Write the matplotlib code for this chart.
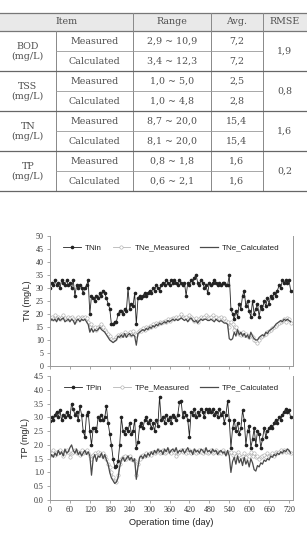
import matplotlib

matplotlib.use("Agg")
import matplotlib.pyplot as plt
import numpy as np

# ---- table data ----
ITEMS = ["BOD", "TSS", "TN", "TP"]
UNIT = "(mg/L)"
KINDS = ["Measured", "Calculated"]
RANGES = [
    ["2,9 ~ 10,9", "3,4 ~ 12,3"],
    ["1,0 ~ 5,0", "1,0 ~ 4,8"],
    ["8,7 ~ 20,0", "8,1 ~ 20,0"],
    ["0,8 ~ 1,8", "0,6 ~ 2,1"],
]
AVGS = [["7,2", "7,2"], ["2,5", "2,8"], ["15,4", "15,4"], ["1,6", "1,6"]]
RMSE = ["1,9", "0,8", "1,6", "0,2"]
HEADERS = ["Item", "Range", "Avg.", "RMSE"]

# ---- time series (sampled every 5 days) ----
DAYS = list(range(0, 730, 5))

TN_IN = [
    30, 32, 31, 33, 31, 32, 30, 33, 32, 31, 33, 31, 32, 30, 33, 27,
    31, 30, 31, 30, 28, 30, 31, 33,
    20, 27, 26, 25, 27, 26,
    28, 27, 29, 28, 26, 24, 22,
    16, 16, 17, 17,
    20, 21, 21, 20, 22, 21,
    30, 22, 24, 23, 28,
    16, 26, 27, 26, 27, 28, 27, 28,
    29, 28, 30, 29, 31, 30, 29, 31,
    32, 31, 33, 32, 31, 33, 32, 33, 32, 31, 33, 32,
    31, 32, 27, 32, 31, 33, 32, 34,
    35, 32, 31, 33, 32, 30, 31, 28,
    32, 31, 32, 33, 32, 31, 32, 31, 32, 32, 31, 31,
    35, 22, 20, 18, 21, 19, 24, 22,
    27, 29, 23, 25, 21, 19, 25, 20, 22, 24, 19, 23,
    22, 25, 23, 26, 24, 27, 26, 28, 27, 29, 31, 30,
    33, 32, 33, 32, 33, 29,
]
TN_MEAS = [
    18.5, 19, 18, 19.5, 18.5, 19, 18, 19, 19.5, 18.5, 18, 19,
    18.5, 19, 18, 17.5, 18.5, 19, 18, 19, 18.5, 19, 18.5, 17,
    15, 16, 14.5, 15, 14, 15, 15.5, 16, 15, 14, 13, 12.5, 11.5,
    10.5, 10, 10.5, 11,
    12, 11.5, 12.5, 12, 13, 12, 12.5, 13, 12, 13.5, 12.5,
    12, 13, 14, 13.5, 14.5, 14, 15, 14.5,
    15.5, 15, 16, 15.5, 16.5, 16, 17, 16.5, 17, 17.5,
    17, 18, 17.5, 18, 18.5, 18, 19, 18.5, 19, 20,
    19, 18.5, 19, 18, 19.5, 19, 18, 17.5, 18.5, 17, 18, 19, 18.5, 19,
    19.5, 19, 18.5, 19, 19.5, 18.5, 19, 18, 18.5, 19, 18, 18.5, 17.5, 17,
    15, 17, 16, 14, 15, 13, 12.5, 12,
    13, 12, 12.5, 11.5, 11, 12, 11, 10, 9.5, 9, 10, 11,
    11.5, 12, 12.5, 13, 13.5, 14, 14.5, 15, 15.5, 16, 16.5, 17,
    17.5, 18, 17, 18.5, 18, 16.5,
]
TN_CALC = [
    17, 18, 17.5, 18, 17, 18.5, 17.5, 18, 18.5, 17, 17.5, 18,
    17, 18, 17.5, 16, 17.5, 18, 17, 18, 17.5, 18, 17, 16,
    13, 14.5, 13, 14, 13.5, 14, 15, 14, 13.5, 13, 12, 11, 10,
    9.5, 9, 9.5, 10,
    11.5, 11, 12, 11, 12.5, 11, 12, 12.5, 11.5, 12, 11.5,
    8, 12.5, 13, 13.5, 14, 13.5, 14.5, 14,
    15, 14.5, 15.5, 15, 16, 15.5, 16.5, 16, 16.5, 17,
    16.5, 17.5, 17, 17.5, 18, 17.5, 18, 17.5, 18, 18.5,
    18, 17.5, 18, 17, 18, 18.5, 17.5, 17, 17.5, 16.5, 17.5, 18, 17.5, 18,
    18, 17.5, 17.5, 18, 17.5, 17, 18, 17.5, 17, 17.5, 17, 16.5, 16.5, 16,
    10.5, 10, 10.5, 13, 11.5, 14, 12, 13,
    11.5, 12.5, 11, 12, 10.5, 13, 11.5, 10.5, 10, 10, 11, 11.5,
    12, 11.5, 13, 12.5, 13.5, 14, 14.5, 15, 16, 16.5, 17, 17.5,
    17, 18, 17.5, 18, 17.5, 17,
]

TP_IN = [
    2.85, 3.0, 2.9, 3.1, 3.2, 3.0, 3.25, 2.9, 3.1, 3.0, 3.2, 3.1,
    3.0, 3.5, 3.3, 3.1, 3.2, 2.9, 3.4, 3.1, 2.5, 2.3, 3.1, 3.2,
    2.5, 2.0, 2.6, 2.6, 2.5, 3.0, 2.9, 3.1, 2.9, 3.0, 3.4, 2.8, 2.4,
    2.0, 1.5, 1.2, 1.25,
    1.4, 2.0, 3.0, 2.5, 2.4, 2.6, 2.5, 2.8, 2.4, 2.5, 2.9,
    1.9, 2.1, 2.7, 2.8, 2.6, 2.9, 3.0, 2.8,
    2.9, 2.6, 2.8, 2.5, 2.9, 2.7, 3.75, 2.9, 3.0, 2.8,
    3.1, 2.9, 3.0, 2.8, 3.1, 3.0, 2.9, 3.1, 3.55, 3.6,
    3.0, 3.2, 3.1, 2.9, 2.3, 3.2, 3.1, 3.3, 3.0, 3.2, 3.1, 3.3, 3.2, 3.0,
    3.3, 3.2, 3.3, 3.2, 3.3, 3.1, 3.2, 3.0, 3.3, 3.1, 3.2, 2.8, 3.1, 3.6,
    2.9, 1.9, 2.6, 2.9, 2.5, 2.8, 2.4, 2.6,
    3.25, 2.9, 2.0, 2.5, 2.7, 1.9, 2.2, 2.6, 2.0, 2.5, 2.4, 1.9,
    2.2, 2.6, 2.3, 2.5, 2.6, 2.7, 2.6, 2.8, 2.9, 2.8, 3.0, 2.9,
    3.1, 3.2, 3.3, 3.2, 3.25, 3.0,
]
TP_MEAS = [
    1.75, 1.7, 1.8, 1.65, 1.75, 1.7, 1.8, 1.75, 1.6, 1.7, 1.8, 1.75,
    1.55, 1.7, 1.75, 1.8, 1.7, 1.75, 1.65, 1.8, 1.7, 1.75, 1.8, 1.7,
    1.6, 1.5, 1.65, 1.7, 1.6, 1.75, 1.7, 1.65, 1.7, 1.6, 1.5, 1.3, 1.2,
    1.0, 0.85, 0.7, 0.65,
    0.9, 1.3, 1.5, 1.55, 1.6, 1.5, 1.55, 1.6, 1.5, 1.45, 1.4,
    0.9, 1.3, 1.5, 1.6, 1.65, 1.6, 1.7, 1.65,
    1.7, 1.65, 1.75, 1.7, 1.75, 1.8, 1.7, 1.75, 1.8, 1.7,
    1.75, 1.8, 1.75, 1.7, 1.8, 1.75, 1.6, 1.7, 1.75, 1.8,
    1.75, 1.8, 1.7, 1.75, 1.8, 1.7, 1.75, 1.8, 1.7, 1.75, 1.8, 1.75, 1.7, 1.8,
    1.75, 1.7, 1.75, 1.8, 1.7, 1.75, 1.8, 1.7, 1.75, 1.7, 1.8, 1.75, 1.7, 1.75,
    1.7, 1.75, 1.65, 1.7, 1.6, 1.75, 1.65, 1.55,
    1.6, 1.7, 1.55, 1.65, 1.6, 1.75, 1.6, 1.7, 1.55, 1.6, 1.5, 1.55,
    1.6, 1.65, 1.55, 1.7, 1.6, 1.65, 1.7, 1.6, 1.75, 1.7, 1.75, 1.8,
    1.75, 1.8, 1.75, 1.8, 1.75, 1.7,
]
TP_CALC = [
    1.5, 1.65, 1.55, 1.7, 1.6, 1.8, 1.65, 1.75, 1.6, 1.85, 1.7, 1.75,
    1.9, 2.0, 1.8, 1.7, 1.85, 1.65, 1.75, 1.6, 1.7, 1.8, 1.65, 1.75,
    1.6, 0.9, 1.5, 1.65, 1.4, 1.6, 1.55, 1.7, 1.5, 1.65, 1.45, 1.3, 1.0,
    0.8, 0.7, 0.6, 0.65,
    0.8, 1.2, 1.45, 1.55, 1.4, 1.5, 1.6, 1.45, 1.55, 1.4, 1.5,
    0.75, 1.2, 1.55, 1.6, 1.5, 1.65, 1.55, 1.7,
    1.6, 1.75, 1.65, 1.8, 1.7, 1.85, 1.75, 1.8, 1.65, 1.85,
    1.75, 1.9, 1.7, 1.8, 1.85, 1.75, 1.9, 1.7, 1.8, 1.75,
    1.85, 1.7, 1.8, 1.9, 1.75, 1.8, 1.65, 1.85, 1.75, 1.8, 1.7, 1.85, 1.8, 1.7,
    1.9, 1.75, 1.8, 1.7, 1.85, 1.75, 1.8, 1.65, 1.75, 1.8, 1.7, 1.75, 1.6, 1.8,
    1.6, 1.0, 1.4, 1.55, 1.3, 1.6, 1.35, 1.5,
    1.25, 1.55, 1.3, 1.45, 1.2, 1.5, 1.35, 1.1, 1.05, 1.25, 1.2, 1.35,
    1.3, 1.45, 1.4, 1.5, 1.45, 1.6, 1.55, 1.65, 1.6, 1.7, 1.65, 1.75,
    1.7, 1.8, 1.75, 1.85, 1.8, 1.7,
]

W, H = 307, 534
TEXT_COLOR = "#505050"
SERIF = ["DejaVu Serif"]
TICK_FONT = ["Liberation Serif"]
LABEL_FONT = ["Liberation Sans"]

COL_X = [0, 55.7, 133.3, 211, 262.7, 307]
HEAD_TOP, HEAD_BOT = 12.7, 31.0
ROW_H = 20.0


def draw_table(fig):
    ax = fig.add_axes([0, 0, 1, 1])
    ax.set_xlim(0, W)
    ax.set_ylim(H, 0)
    ax.axis("off")

    ax.fill_between([0, W], HEAD_TOP, HEAD_BOT, color="#e9e9e9", lw=0)
    ax.plot([0, W], [HEAD_TOP, HEAD_TOP], color="#777777", lw=0.9)
    ax.plot([0, W], [HEAD_BOT, HEAD_BOT], color="#777777", lw=0.9)

    centers = [(COL_X[0] + COL_X[2]) / 2] + [
        (COL_X[i] + COL_X[i + 1]) / 2 for i in range(2, 5)
    ]
    head_y = (HEAD_TOP + HEAD_BOT) / 2
    for cx, label in zip(centers, HEADERS):
        ax.text(cx, head_y, label, ha="center", va="center", fontsize=6.8,
                family=SERIF, color=TEXT_COLOR)

    bottom = HEAD_BOT + ROW_H * 2 * len(ITEMS)
    for x in COL_X[2:5]:
        ax.plot([x, x], [HEAD_TOP, bottom], color="#888888", lw=0.7)
    ax.plot([COL_X[1], COL_X[1]], [HEAD_BOT, bottom], color="#888888", lw=0.7)

    for g, item in enumerate(ITEMS):
        top = HEAD_BOT + g * 2 * ROW_H
        mid = top + ROW_H
        end = mid + ROW_H
        ax.plot([COL_X[1], COL_X[4]], [mid, mid], color="#999999", lw=0.6)
        ax.plot([0, W], [end, end], color="#666666", lw=0.9)
        ax.text((COL_X[0] + COL_X[1]) / 2, mid - 4.5, item, ha="center",
                va="center", fontsize=6.8, family=SERIF, color=TEXT_COLOR)
        ax.text((COL_X[0] + COL_X[1]) / 2, mid + 5.5, UNIT, ha="center",
                va="center", fontsize=6.8, family=SERIF, color=TEXT_COLOR)
        ax.text((COL_X[4] + COL_X[5]) / 2, mid, RMSE[g], ha="center",
                va="center", fontsize=6.8, family=SERIF, color=TEXT_COLOR)
        for k, kind in enumerate(KINDS):
            cy = top + ROW_H * (k + 0.5)
            cells = [kind, RANGES[g][k], AVGS[g][k]]
            for c, txt in enumerate(cells):
                cx = (COL_X[c + 1] + COL_X[c + 2]) / 2
                ax.text(cx, cy, txt, ha="center", va="center", fontsize=6.8,
                        family=SERIF, color=TEXT_COLOR)


def style_panel(ax, ylim, yticks, ylabel, fmt):
    ax.set_xlim(0, 732)
    ax.set_ylim(*ylim)
    ax.set_xticks(range(0, 721, 60))
    ax.set_yticks(yticks)
    ax.set_yticklabels([fmt.format(v) for v in yticks], family=TICK_FONT,
                       fontsize=5.8, color="#333333")
    ax.spines["top"].set_visible(False)
    for side in ("left", "bottom", "right"):
        ax.spines[side].set_color("#999999")
        ax.spines[side].set_linewidth(0.7)
    ax.tick_params(length=2.5, width=0.6, color="#999999", pad=2)
    ax.set_ylabel(ylabel, family=LABEL_FONT, fontsize=6.5, color="#222222",
                  labelpad=3)


def draw_series(ax, inflow, meas, calc, names):
    ax.plot(DAYS, inflow, color="#222222", lw=0.6, marker="o", ms=1.6,
            label=names[0])
    ax.plot(DAYS, meas, color="#b5b5b5", lw=0.6, marker="o", ms=2.4,
            mfc="white", mec="#a8a8a8", mew=0.4, label=names[1])
    ax.plot(DAYS, calc, color="#4a4a4a", lw=0.9, label=names[2])
    leg = ax.legend(loc="upper center", bbox_to_anchor=(0.5, 0.995), ncol=3,
                    frameon=False, handlelength=2.2, columnspacing=1.3,
                    handletextpad=0.5, prop={"family": LABEL_FONT, "size": 5.8})
    for text in leg.get_texts():
        text.set_color("#222222")


def main():
    fig = plt.figure(figsize=(W / 100, H / 100), dpi=100)
    draw_table(fig)

    left, width = 50 / W, 243 / W
    ax_tn = fig.add_axes([left, 1 - 366 / H, width, 130 / H])
    ax_tp = fig.add_axes([left, 1 - 500 / H, width, 124 / H])

    draw_series(ax_tn, TN_IN, TN_MEAS, TN_CALC,
                ["TNin", "TNe_Measured", "TNe_Calculated"])
    style_panel(ax_tn, (0, 50), list(range(0, 51, 5)), "TN (mg/L)", "{:g}")
    ax_tn.set_xticklabels([])

    draw_series(ax_tp, TP_IN, TP_MEAS, TP_CALC,
                ["TPin", "TPe_Measured", "TPe_Calculated"])
    style_panel(ax_tp, (0, 4.5), [i * 0.5 for i in range(10)], "TP (mg/L)",
                "{:.1f}")
    ax_tp.set_xticklabels([str(d) for d in range(0, 721, 60)],
                          family=TICK_FONT, fontsize=5.8, color="#333333")
    ax_tp.set_xlabel("Operation time (day)", family=LABEL_FONT, fontsize=6.7,
                     color="#222222", labelpad=3)

    fig.savefig("out.png", dpi=100)


if __name__ == "__main__":
    main()
